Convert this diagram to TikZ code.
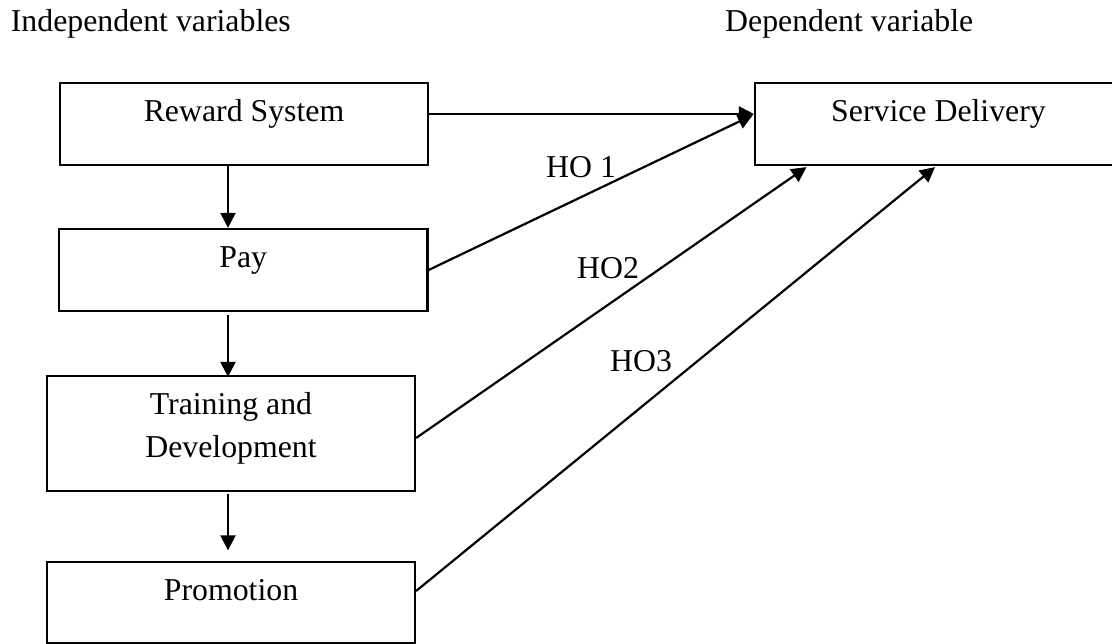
\documentclass[tikz,border=0pt]{standalone}
\usepackage{fontspec}
\setmainfont{Liberation Serif}
\usetikzlibrary{arrows.meta}
\begin{document}
\begin{tikzpicture}[x=1pt,y=-1pt,
  every node/.style={font=\fontsize{31.8}{42.3}\selectfont},
  box/.style={draw, line width=2.2pt, rectangle, inner sep=0pt},
  txt/.style={anchor=base, inner sep=0pt, align=center},
  lbl/.style={anchor=base west, inner sep=0pt},
  arr/.style={line width=2.2pt, -{Triangle[length=15pt,width=15pt]}}]
\useasboundingbox (0,0) rectangle (1112,644);
\fill[white] (0,0) rectangle (1112,644);
% header labels
\node[lbl] (indep) at (10.7,31.7) {Independent variables};
\node[lbl] (dep) at (725,31.7) {Dependent variable};
% boxes
\node[box, minimum width=368pt, minimum height=82pt] (reward) at (244,124) {};
\node[box, minimum width=368.5pt, minimum height=82pt] (pay) at (243.25,270) {};
\node[box, minimum width=368pt, minimum height=115pt] (training) at (231,433.5) {};
\node[box, minimum width=368pt, minimum height=81pt] (promotion) at (231,602.5) {};
\node[box, minimum width=367pt, minimum height=82pt] (service) at (938.5,124) {};
% box texts
\node[txt, yshift=-40pt] (rewardT) at (reward.north) {Reward System};
\node[txt, yshift=-40pt] (payT) at (pay.north) {Pay};
\node[txt, yshift=-82.3pt] (trainingT) at (training.north) {Training and\\Development};
\node[txt, yshift=-40pt] (promotionT) at (promotion.north) {Promotion};
\node[txt, yshift=-40pt] (serviceT) at (service.north) {Service Delivery};
% vertical arrows
\coordinate (ax) at (228,0);
\draw[arr] (reward.south -| ax) -- (pay.north -| ax);
\draw[arr, shorten <=3pt, shorten >=-2pt] (pay.south -| ax) -- (training.north -| ax);
\draw[arr, shorten <=2pt, shorten >=10.5pt] (training.south -| ax) -- (promotion.north -| ax);
% arrows to service delivery
\draw[arr] ([yshift=10pt]reward.east) -- ([yshift=10pt]service.west);
\draw[arr] (pay.east) -- ([yshift=9pt,xshift=-1pt]service.west);
\draw[arr] ([yshift=-4.5pt]training.east) -- ([xshift=-132pt,yshift=-1pt]service.south);
\draw[arr] ([yshift=11.5pt]promotion.east) -- ([xshift=-3.5pt,yshift=-1pt]service.south);
% hypothesis labels
\node[lbl] (ho1) at (546,177.7) {HO 1};
\node[lbl] (ho2) at (577,278.3) {HO2};
\node[lbl] (ho3) at (610,371.5) {HO3};
\end{tikzpicture}
\end{document}
